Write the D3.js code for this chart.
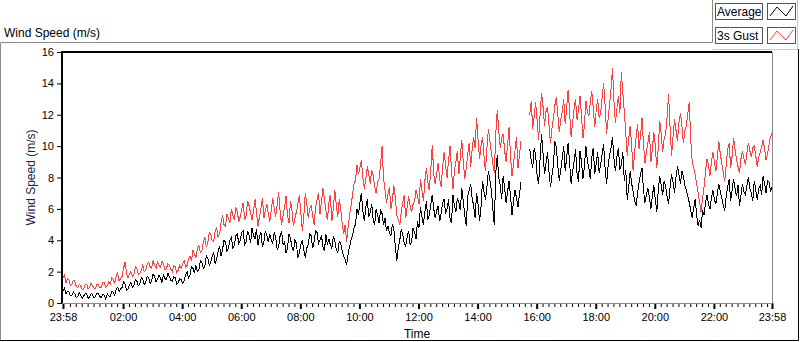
<!DOCTYPE html>
<html>
<head>
<meta charset="utf-8">
<script src="https://cdn.jsdelivr.net/npm/d3@7"></script>
<style>
  body { margin: 0; background: #fff; }
  svg { display: block; font-family: "Liberation Sans", Arial, sans-serif; }
  .tick text { font-size: 11px; fill: #000; }
</style>
</head>
<body>
<svg width="800" height="342"></svg>
<script>
// one sample every 3 minutes, starting 23:58
let stepMin = 3;

let avg = [
  0.8, 0.95, 0.6, 0.75, 0.7, 0.45, 0.5, 0.7, 0.6, 0.35, 0.4, 0.65, 0.5, 0.3, 0.45, 0.6, 0.6, 0.3, 0.4, 0.6,
  0.55, 0.3, 0.45, 0.65, 0.6, 0.4, 0.35, 0.55, 0.5, 0.25, 0.6, 0.45, 0.4, 0.75, 0.7, 0.5, 0.85, 1.0, 0.75, 0.9,
  1.0, 1.35, 1.2, 0.8, 0.9, 1.15, 1.3, 1.0, 1.1, 1.5, 1.4, 1.1, 1.2, 1.6, 1.5, 1.2, 1.3, 1.7, 1.6, 1.25,
  1.4, 1.85, 1.7, 1.35, 1.5, 1.75, 1.6, 1.3, 1.8, 1.55, 1.5, 1.9, 1.7, 1.45, 1.4, 1.65, 1.6, 1.2, 1.3, 1.55,
  1.5, 1.25, 1.4, 1.8, 2.0, 1.6, 1.8, 2.3, 2.2, 1.9, 2.4, 2.0, 2.1, 2.7, 2.6, 2.2, 2.3, 3.0, 2.9, 2.4,
  2.6, 3.0, 3.2, 2.5, 2.8, 3.3, 3.6, 3.0, 3.4, 4.0, 3.9, 3.3, 3.5, 4.0, 4.2, 3.5, 3.7, 4.3, 4.4, 3.8,
  4.0, 4.5, 4.6, 3.7, 3.9, 4.6, 4.3, 3.8, 4.8, 4.3, 4.1, 4.7, 3.7, 4.2, 4.5, 3.6, 3.9, 4.6, 4.3, 3.9,
  4.4, 4.0, 3.8, 4.5, 4.2, 3.4, 3.6, 4.3, 4.6, 3.7, 3.9, 3.2, 3.5, 4.4, 4.1, 3.6, 3.3, 4.0, 3.8, 2.9,
  3.2, 3.7, 4.0, 3.4, 2.9, 3.5, 3.7, 4.4, 4.3, 3.5, 3.9, 4.6, 4.5, 3.8, 4.0, 4.3, 3.6, 3.3, 4.4, 3.7,
  4.1, 3.7, 3.5, 4.2, 4.0, 3.4, 3.2, 3.9, 3.8, 3.3, 3.0, 2.8, 2.4, 3.1, 3.6, 4.0, 4.3, 4.8, 5.0, 6.0,
  5.6, 6.4, 7.0, 5.9, 5.2, 6.1, 6.6, 5.5, 5.8, 6.3, 5.3, 5.0, 6.0, 5.6, 5.1, 5.9, 5.7, 5.0, 5.4, 4.6,
  4.9, 4.5, 4.3, 5.0, 4.7, 3.6, 2.7, 3.5, 4.0, 4.7, 4.4, 3.8, 3.6, 4.2, 4.6, 3.7, 3.9, 4.8, 4.5, 4.1,
  5.2, 4.8, 6.1, 5.5, 5.0, 5.8, 6.5, 5.3, 5.6, 6.3, 6.9, 6.0, 5.4, 5.9, 6.2, 5.2, 5.7, 6.4, 6.6, 5.7,
  6.0, 6.6, 5.4, 5.1, 6.9, 6.2, 5.8, 6.7, 6.4, 5.9, 7.3, 6.5, 5.6, 4.9, 6.8, 7.2, 7.6, 6.7, 6.2, 5.4,
  7.0, 6.3, 5.2, 6.1, 7.8, 7.1, 6.6, 7.4, 8.4, 7.8, 7.2, 6.0, 5.0, 8.3, 9.4, 8.0, 7.5, 6.6, 8.1, 7.3,
  6.4, 7.1, 7.8, 6.8, 5.6, 6.5, 7.2, 6.7, 6.1, 6.9, 7.7,
  null, null, null, null, null,
  9.8, 9.1, 8.6, 9.9, 9.4, 8.1, 7.6, 9.2, 10.8, 9.5, 8.2, 8.9, 9.6, 8.4, 7.4, 8.1, 8.8, 10.3, 9.9, 8.7, 7.8, 8.5, 9.2, 10.0,
  8.4, 9.3, 10.2, 8.9, 7.6, 8.4, 9.0, 9.8, 8.3, 7.7, 9.7, 9.0, 7.9, 8.7, 10.0, 9.1, 8.6, 7.9, 9.3, 9.9,
  8.2, 8.9, 9.6, 8.3, 8.8, 9.5, 10.1, 8.6, 7.6, 8.7, 9.4, 9.9, 10.6, 9.2, 8.4, 9.3, 9.9, 8.5, 8.8, 9.6,
  7.8, 8.5, 6.6, 7.4, 8.4, 7.6, 7.1, 6.5, 6.2, 7.0, 7.7, 8.2, 8.6, 7.2, 6.4, 6.9, 7.3, 6.7, 6.0, 6.8,
  7.5, 6.6, 5.8, 7.2, 8.1, 7.5, 6.9, 7.8, 7.4, 6.8, 6.3, 7.4, 8.2, 7.7, 7.0, 8.0, 8.7, 8.2, 7.6, 8.4,
  8.1, 7.5, 7.2, 6.8, 6.4, 5.9, 5.4, 6.1, 6.6, 5.6, 4.9, 5.3, 4.8, 5.9, 5.6, 6.4, 6.9, 6.3, 6.0, 6.7,
  7.2, 6.6, 6.3, 7.0, 7.6, 7.1, 6.7, 6.2, 5.9, 6.8, 7.4, 7.9, 6.5, 7.2, 7.9, 7.3, 6.8, 7.5, 6.2, 6.9,
  7.6, 7.1, 6.9, 7.5, 8.0, 7.3, 7.0, 6.5, 7.8, 7.2, 6.6, 7.3, 7.5, 6.9, 8.1, 7.6, 7.0, 7.8, 7.7, 7.1, 7.4
];

let gust = [
  1.6, 1.8, 1.3, 1.55, 1.5, 1.1, 1.2, 1.45, 1.4, 1.05, 1.0, 1.2, 1.1, 0.85, 0.9, 1.15, 1.2, 0.9, 1.0, 1.25,
  1.1, 0.95, 0.9, 1.2, 1.2, 0.95, 1.0, 1.3, 1.3, 1.0, 1.1, 1.35, 1.2, 1.6, 1.5, 1.25, 1.7, 1.9, 1.4, 1.55,
  1.7, 2.2, 2.6, 1.9, 1.6, 1.85, 2.0, 1.7, 1.8, 2.3, 2.2, 1.8, 1.9, 2.1, 2.4, 2.0, 2.1, 2.5, 2.6, 2.3,
  2.2, 2.7, 2.4, 2.2, 2.6, 2.4, 2.3, 2.65, 2.5, 2.1, 2.2, 2.5, 2.4, 2.15, 2.0, 2.35, 2.3, 1.95, 2.1, 2.4,
  2.2, 2.5, 2.7, 2.3, 2.4, 2.8, 3.0, 2.7, 3.4, 3.1, 2.9, 3.5, 3.7, 3.2, 3.3, 3.9, 4.2, 3.6, 3.8, 4.5,
  4.4, 4.0, 3.9, 4.6, 4.8, 4.2, 4.4, 5.1, 5.6, 5.0, 4.9, 5.7, 5.4, 5.1, 6.0, 5.6, 5.3, 6.1, 5.8, 5.2,
  5.5, 6.0, 6.4, 5.3, 5.6, 6.5, 6.2, 5.7, 5.3, 5.9, 6.6, 5.8, 4.9, 5.5, 6.0, 6.7, 5.4, 5.9, 6.3, 5.7,
  5.2, 5.9, 6.7, 6.0, 5.5, 6.3, 7.1, 5.8, 5.0, 5.6, 6.1, 6.8, 5.6, 5.1, 6.5, 5.9, 4.9, 5.4, 5.8, 6.3,
  6.9, 5.8, 4.6, 5.5, 7.0, 6.4, 5.4, 6.0, 6.2, 5.6, 5.0, 6.1, 6.6, 7.0, 5.7, 6.5, 7.3, 6.6, 5.9, 5.3,
  6.4, 6.9, 5.2, 6.0, 7.2, 6.3, 5.5, 6.6, 6.0, 5.1, 4.4, 5.0, 3.9, 4.8, 5.6, 6.2, 6.9, 7.6, 7.8, 8.8,
  8.2, 8.6, 9.1, 8.0, 7.3, 7.9, 8.7, 8.2, 7.6, 8.5, 8.1, 7.4, 7.0, 7.7, 7.9, 8.8, 10.0, 8.0, 7.2, 6.4,
  6.9, 7.4, 6.0, 6.6, 7.5, 6.7, 5.6, 5.3, 5.0, 5.8, 6.4, 6.9, 5.4, 6.1, 6.8, 6.2, 5.8, 6.3, 6.5, 7.2,
  6.8, 6.3, 7.9, 7.2, 6.5, 7.8, 8.6, 7.7, 7.2, 8.5, 10.1, 8.2, 7.6, 8.3, 8.9, 7.9, 7.4, 8.7, 9.6, 8.8,
  8.0, 9.1, 10.0, 8.5, 7.3, 8.4, 9.0, 9.7, 8.2, 9.3, 10.4, 9.0, 7.9, 8.6, 9.5, 10.2, 8.7, 9.8, 10.6, 9.9,
  11.8, 10.4, 9.2, 10.0, 10.6, 9.4, 8.4, 9.9, 11.1, 10.3, 9.6, 8.9, 8.3, 10.8, 12.3, 11.0, 9.9, 10.5, 10.8, 9.7,
  9.0, 10.1, 11.2, 9.3, 8.1, 8.9, 9.7, 10.6, 8.6, 9.4, 10.3,
  null, null, null, null, null,
  12.0, 12.9, 11.1, 11.9, 12.8, 11.6, 10.4, 12.0, 13.4, 12.5, 11.3, 12.2, 12.5, 11.4, 10.2, 11.1, 11.8, 12.6, 13.1, 12.0, 10.9, 11.7, 12.2, 13.0,
  11.4, 12.5, 13.6, 12.1, 10.6, 11.5, 12.4, 13.0, 11.7, 12.3, 13.2, 12.0, 10.5, 11.3, 12.9, 12.2, 11.9, 12.8, 13.5, 12.4,
  11.2, 12.3, 13.0, 11.8, 12.1, 13.1, 14.0, 12.6, 10.8, 11.7, 12.6, 13.6, 15.0, 12.9, 11.5, 12.4, 13.2, 12.1, 14.7, 13.4,
  12.2, 10.8, 9.4, 10.5, 11.3, 10.0, 8.4, 9.6, 10.6, 11.4, 9.8, 10.7, 11.8, 10.1, 8.9, 9.7, 10.2, 10.9, 9.0, 9.8,
  10.9, 10.0, 8.6, 9.9, 11.6, 10.8, 9.6, 10.5, 10.8, 11.9, 13.3, 11.2, 9.4, 10.6, 11.7, 11.0, 10.3, 11.5, 12.1, 11.3,
  10.2, 11.0, 11.3, 12.1, 12.8, 10.4, 9.0, 8.6, 8.2, 7.6, 7.0, 6.4, 5.8, 6.7, 7.4, 8.4, 9.2, 8.8, 8.1, 9.0,
  9.6, 9.0, 8.4, 9.3, 10.3, 9.5, 8.9, 8.3, 7.8, 8.8, 9.8, 10.2, 8.6, 9.4, 10.5, 9.8, 9.1, 8.7, 8.3, 9.2,
  9.7, 9.2, 8.8, 9.6, 10.2, 9.7, 9.3, 9.9, 10.0, 9.4, 8.7, 9.3, 9.6, 10.0, 10.4, 9.8, 9.1, 9.5, 10.1, 10.6, 10.8
];

// major time ticks, minutes after the 23:58 start
let majorMin = [0, 122, 242, 362, 482, 602, 722, 842, 962, 1082, 1202, 1322, 1440];
let timeLabels = ["23:58", "02:00", "04:00", "06:00", "08:00", "10:00", "12:00",
                  "14:00", "16:00", "18:00", "20:00", "22:00", "23:58"];
let yTicks = [0, 2, 4, 6, 8, 10, 12, 14, 16];

let plot = {left: 62, right: 772, top: 52, bottom: 303};

let svg = d3.select("svg");

let x = d3.scaleLinear().domain([0, 1440]).range([plot.left + 1, plot.right]);
let y = d3.scaleLinear().domain([0, 16]).range([plot.bottom, plot.top]);

// outer frame
svg.append("path")
   .attr("d", "M0.5,341 V42.5 H712.5 V0")
   .attr("fill", "none").attr("stroke", "#8a8a8a");
svg.append("path")
   .attr("d", "M712.5,49.5 H797.5 V0")
   .attr("fill", "none").attr("stroke", "#c8c8c8");
svg.append("path")
   .attr("d", "M0,340.5 H798.5 V49")
   .attr("fill", "none").attr("stroke", "#000");

svg.append("text")
   .attr("x", 4).attr("y", 37)
   .style("font-size", "12px")
   .text("Wind Speed (m/s)");

// legend
let legend = [{name: "Average", color: "#000"}, {name: "3s Gust", color: "#ff4040"}];
let lg = svg.selectAll(".legend").data(legend).enter().append("g")
   .attr("transform", (d, i) => `translate(0, ${i * 24})`);
lg.append("rect").attr("x", 715.5).attr("y", 3.5).attr("width", 47).attr("height", 16)
  .attr("fill", "#fff").attr("stroke", "#555");
lg.append("text").attr("x", 717).attr("y", 16).style("font-size", "12px")
  .text(d => d.name);
lg.append("rect").attr("x", 767.5).attr("y", 3.5).attr("width", 28).attr("height", 16)
  .attr("fill", "#fff").attr("stroke", "#555");
lg.append("path").attr("d", "M770,16 L777,7 L786,16 L793,6")
  .attr("fill", "none").attr("stroke", d => d.color);

// y axis
let yAxis = d3.axisLeft(y).tickValues(yTicks).tickSize(5).tickPadding(3);
svg.append("g")
   .attr("transform", `translate(${plot.left}, 0)`)
   .call(yAxis)
   .call(g => g.select(".domain").remove())
   .call(g => g.selectAll(".tick line").attr("stroke", "#000"));

// x axis: minor ticks every 12 minutes, majors every 2 hours
let minorMin = d3.range(14, 1440, 12).filter(m => (m - 2) % 120 !== 0 && m < 1436);
svg.append("g")
   .attr("transform", `translate(0, ${plot.bottom + 1})`)
   .call(d3.axisBottom(x).tickValues(minorMin).tickSize(3).tickFormat(""))
   .call(g => g.select(".domain").remove())
   .call(g => g.selectAll(".tick line").attr("stroke", "#000"));

svg.append("g")
   .attr("transform", `translate(0, ${plot.bottom})`)
   .call(d3.axisBottom(x).tickValues(majorMin).tickSize(6).tickPadding(4)
           .tickFormat((d, i) => timeLabels[i]))
   .call(g => g.select(".domain").remove())
   .call(g => g.selectAll(".tick line").attr("stroke", "#000").attr("stroke-width", 2));

// plot border: dark top/left, grey right/bottom
svg.append("path")
   .attr("d", `M${plot.left},${plot.bottom} V${plot.top} H${plot.right}`)
   .attr("fill", "none").attr("stroke", "#000").attr("stroke-width", 2);
svg.append("path")
   .attr("d", `M${plot.right + 0.5},${plot.top} V${plot.bottom + 0.5} H${plot.left}`)
   .attr("fill", "none").attr("stroke", "#8a8a8a");

// axis titles
svg.append("text")
   .attr("transform", `translate(35, ${(plot.top + plot.bottom) / 2}) rotate(-90)`)
   .attr("text-anchor", "middle")
   .style("font-size", "12px").style("fill", "#1a2350")
   .text("Wind Speed (m/s)");
svg.append("text")
   .attr("x", (plot.left + plot.right) / 2).attr("y", 338)
   .attr("text-anchor", "middle")
   .style("font-size", "12px")
   .text("Time");

// the two traces
let line = d3.line()
   .defined(d => d != null)
   .x(d => x(d.t))
   .y(d => y(d.v));

function toPoints(arr) {
  return arr.map((v, i) => v == null ? null : {t: i * stepMin, v: v});
}

svg.append("path")
   .datum(toPoints(gust))
   .attr("d", line)
   .attr("fill", "none").attr("stroke", "#ff4040")
   .attr("shape-rendering", "crispEdges");

svg.append("path")
   .datum(toPoints(avg))
   .attr("d", line)
   .attr("fill", "none").attr("stroke", "#000")
   .attr("shape-rendering", "crispEdges");
</script>
</body>
</html>
